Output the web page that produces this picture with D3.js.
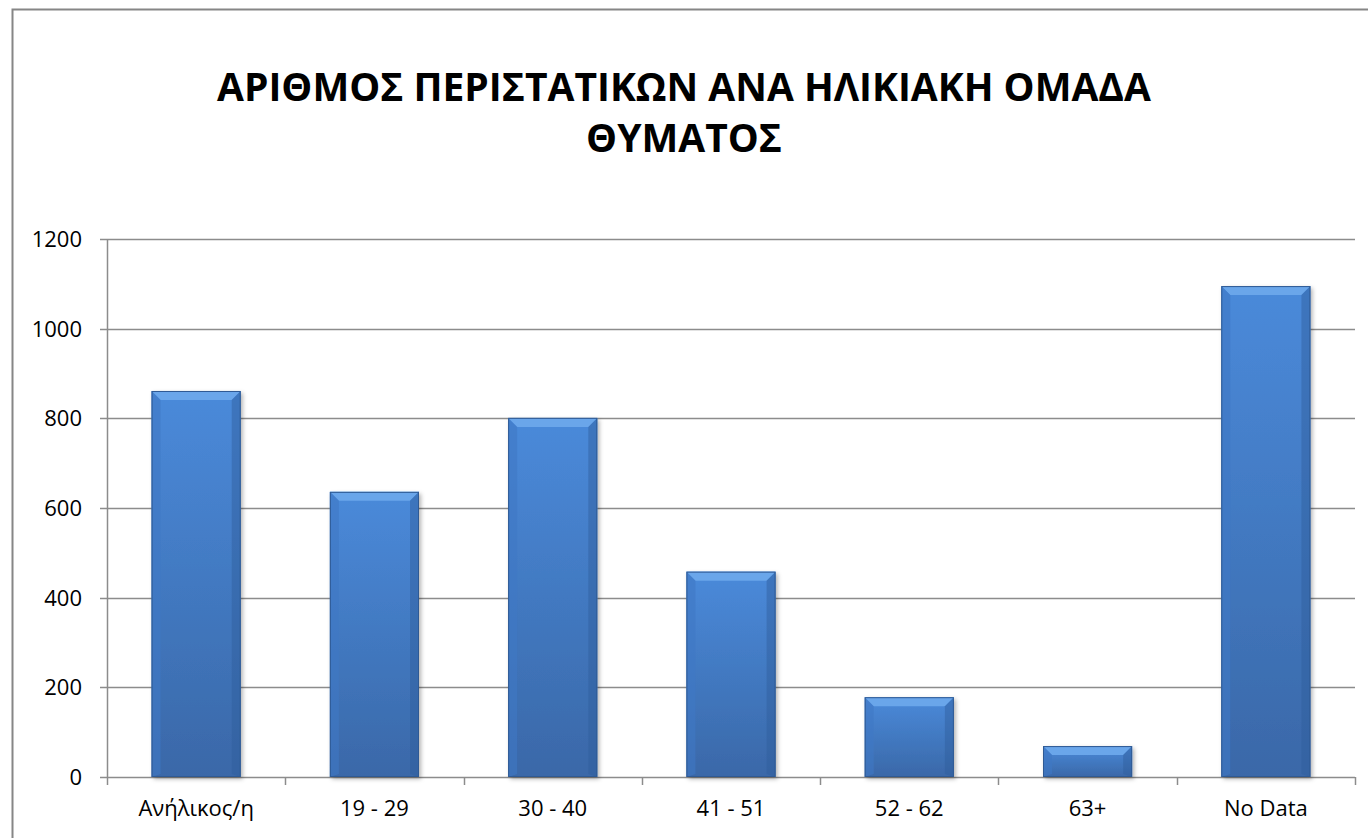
<!DOCTYPE html>
<html>
<head>
<meta charset="utf-8">
<script src="https://cdn.jsdelivr.net/npm/d3@7"></script>
<style>
  body { margin: 0; background: #fff; }
  svg { display: block; }
  text { font-family: "Open Sans", "DejaVu Sans", sans-serif; fill: #000; }
</style>
</head>
<body>
<svg id="chart"></svg>
<script>
var categories = ["Ανήλικος/η", "19 - 29", "30 - 40", "41 - 51", "52 - 62", "63+", "No Data"];
var values = [861, 636, 801, 458, 178, 69, 1095];
var yTicks = [0, 200, 400, 600, 800, 1000, 1200];
var titleLines = ["ΑΡΙΘΜΟΣ ΠΕΡΙΣΤΑΤΙΚΩΝ ΑΝΑ ΗΛΙΚΙΑΚΗ ΟΜΑΔΑ", "ΘΥΜΑΤΟΣ"];

var width = 1368, height = 838;
var margin = { top: 239, right: 13, bottom: 61, left: 107 };

var svg = d3.select("#chart").attr("width", width).attr("height", height);
var defs = svg.append("defs");

// bar body gradient
var grad = defs.append("linearGradient")
  .attr("id", "barFill").attr("x1", 0).attr("y1", 0).attr("x2", 0).attr("y2", 1);
grad.append("stop").attr("offset", "0%").attr("stop-color", "#4a8ada");
grad.append("stop").attr("offset", "100%").attr("stop-color", "#3a68a8");

var filter = defs.append("filter").attr("id", "shadow")
  .attr("x", "-10%").attr("y", "-10%").attr("width", "130%").attr("height", "130%");
filter.append("feDropShadow").attr("dx", 2).attr("dy", 2).attr("stdDeviation", 2)
  .attr("flood-color", "#000").attr("flood-opacity", 0.3);

// chart border
svg.append("rect")
  .attr("x", 12.5).attr("y", 9.5)
  .attr("width", width).attr("height", height)
  .attr("fill", "none").attr("stroke", "#868686").attr("stroke-width", 2);

// title
svg.append("g").selectAll("text")
  .data(titleLines).enter().append("text")
  .attr("x", 684)
  .attr("y", function(d, i) { return 101 + i * 51; })
  .attr("text-anchor", "middle")
  .style("font-size", "39px")
  .style("font-weight", "bold")
  .text(function(d) { return d; });

var x = d3.scaleBand()
  .domain(categories)
  .range([margin.left, width - margin.right])
  .paddingInner(0.5).paddingOuter(0.25);

var y = d3.scaleLinear()
  .domain([0, 1200])
  .range([height - margin.bottom, margin.top]);

// gridlines
svg.append("g").selectAll("line")
  .data(yTicks).enter().append("line")
  .attr("x1", margin.left - 7).attr("x2", width - margin.right)
  .attr("y1", function(d) { return Math.round(y(d)) + 0.5; })
  .attr("y2", function(d) { return Math.round(y(d)) + 0.5; })
  .attr("stroke", "#8c8c8c").attr("stroke-width", 1.5);

// y axis line
svg.append("line")
  .attr("x1", margin.left + 0.5).attr("x2", margin.left + 0.5)
  .attr("y1", y(1200)).attr("y2", y(0))
  .attr("stroke", "#8c8c8c").attr("stroke-width", 1.5);

// y labels
svg.append("g").selectAll("text")
  .data(yTicks).enter().append("text")
  .attr("x", 82)
  .attr("y", function(d) { return y(d) + 8; })
  .attr("text-anchor", "end")
  .style("font-size", "22px")
  .text(function(d) { return d; });

// x ticks at band boundaries
var step = x.step();
var bounds = d3.range(categories.length + 1).map(function(i) { return margin.left + i * step; });
svg.append("g").selectAll("line")
  .data(bounds).enter().append("line")
  .attr("x1", function(d) { return Math.round(d) + 0.5; })
  .attr("x2", function(d) { return Math.round(d) + 0.5; })
  .attr("y1", y(0)).attr("y2", y(0) + 8)
  .attr("stroke", "#8c8c8c").attr("stroke-width", 1.5);

// x labels
svg.append("g").selectAll("text")
  .data(categories).enter().append("text")
  .attr("x", function(d) { return x(d) + x.bandwidth() / 2; })
  .attr("y", y(0) + 39)
  .attr("text-anchor", "middle")
  .style("font-size", "22px")
  .text(function(d) { return d; });

// bars
var bars = svg.append("g").selectAll("g")
  .data(categories.map(function(c, i) { return { cat: c, v: values[i] }; }))
  .enter().append("g");

bars.append("rect")
  .attr("x", function(d) { return x(d.cat); })
  .attr("y", function(d) { return y(d.v); })
  .attr("width", x.bandwidth())
  .attr("height", function(d) { return y(0) - y(d.v); })
  .attr("fill", "url(#barFill)")
  .attr("filter", "url(#shadow)");

var bev = 9;
// top bevel
bars.append("path")
  .attr("d", function(d) {
    var x0 = x(d.cat), x1 = x0 + x.bandwidth(), t = y(d.v);
    return "M" + x0 + "," + t + "L" + x1 + "," + t + "L" + (x1 - bev) + "," + (t + bev) +
      "L" + (x0 + bev) + "," + (t + bev) + "Z";
  })
  .attr("fill", "#6aa6ea");
// left bevel
bars.append("path")
  .attr("d", function(d) {
    var x0 = x(d.cat), t = y(d.v), b = y(0);
    return "M" + x0 + "," + t + "L" + (x0 + bev) + "," + (t + bev) + "L" + (x0 + bev) + "," + (b - 3) +
      "L" + x0 + "," + b + "Z";
  })
  .attr("fill", "#3f78c4").attr("opacity", 0.6);
// right bevel
bars.append("path")
  .attr("d", function(d) {
    var x1 = x(d.cat) + x.bandwidth(), t = y(d.v), b = y(0);
    return "M" + x1 + "," + t + "L" + (x1 - bev) + "," + (t + bev) + "L" + (x1 - bev) + "," + (b - 3) +
      "L" + x1 + "," + b + "Z";
  })
  .attr("fill", "#2f5d9c").attr("opacity", 0.45);
// outline
bars.append("rect")
  .attr("x", function(d) { return x(d.cat) + 0.5; })
  .attr("y", function(d) { return y(d.v) + 0.5; })
  .attr("width", x.bandwidth() - 1)
  .attr("height", function(d) { return y(0) - y(d.v) - 1; })
  .attr("fill", "none").attr("stroke", "#2f5a94").attr("stroke-width", 1);
</script>
</body>
</html>
